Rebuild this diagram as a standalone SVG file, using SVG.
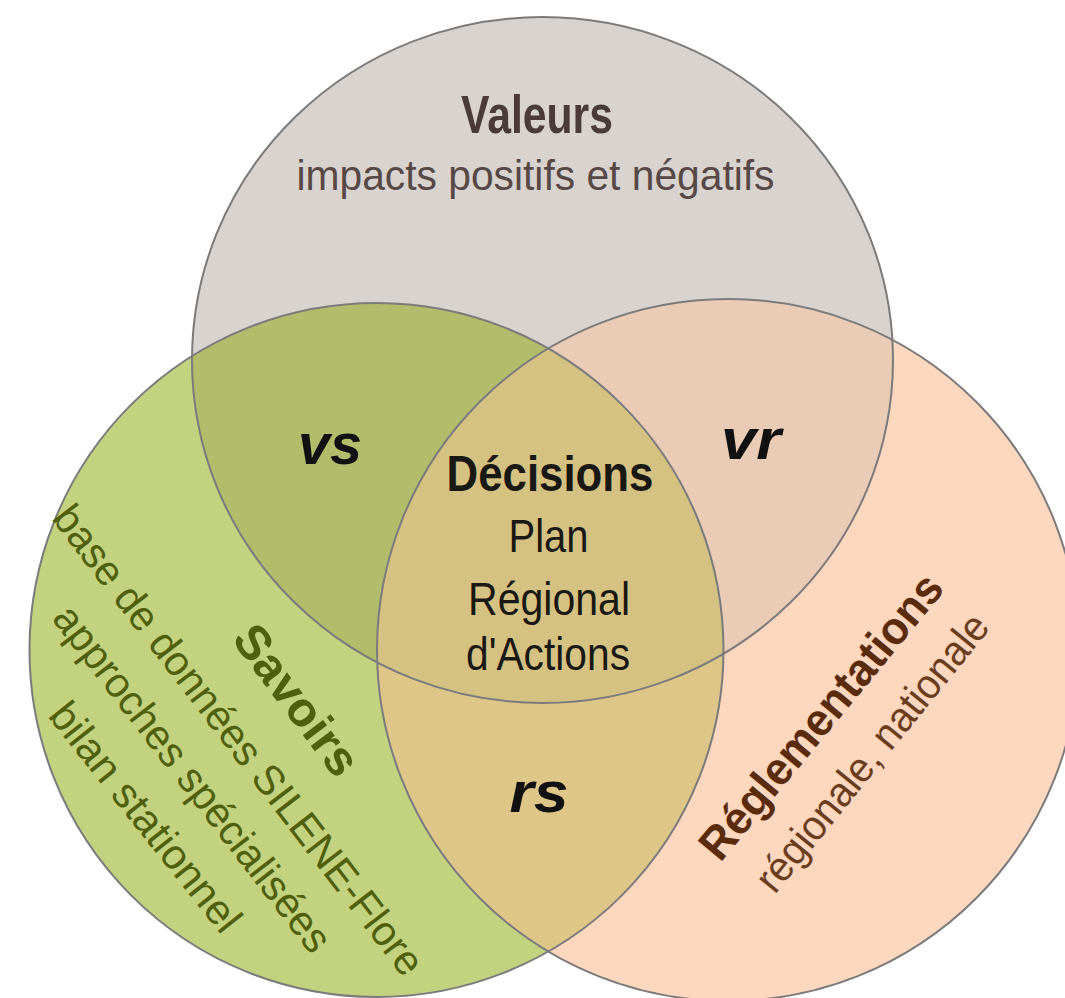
<svg xmlns="http://www.w3.org/2000/svg" width="1065" height="998" viewBox="0 0 1065 998">
  <style>
    .t { font-family: "Liberation Sans", Arial, sans-serif; text-anchor: middle; }
    .b { font-weight: bold; }
    .lbl { font-weight: bold; font-style: italic; font-size: 58px; fill: #111111; }
    .edge { fill: none; stroke: #7b7b7b; stroke-width: 2; }
    .sav { fill: #4f5f0c; }
  </style>
  <defs>
    <clipPath id="clipTop"><ellipse cx="542.5" cy="360" rx="350.5" ry="343"/></clipPath>
    <clipPath id="clipLeft"><circle cx="376.5" cy="650" r="347"/></clipPath>
    <clipPath id="clipRight"><circle cx="728" cy="650" r="351"/></clipPath>
  </defs>
  <rect width="1065" height="998" fill="#ffffff"/>

  <g id="valeurs">
    <ellipse cx="542.5" cy="360" rx="350.5" ry="343" fill="#d8d3cf"/>
  </g>
  <g id="savoirs">
    <circle cx="376.5" cy="650" r="347" fill="#c3d27f"/>
  </g>
  <g id="reglementations">
    <circle cx="728" cy="650" r="351" fill="#fed7bf"/>
  </g>
  <g id="vs">
    <circle cx="376.5" cy="650" r="347" fill="#b2bd6b" clip-path="url(#clipTop)"/>
  </g>
  <g id="vr">
    <circle cx="728" cy="650" r="351" fill="#eaccb6" clip-path="url(#clipTop)"/>
  </g>
  <g id="rs">
    <circle cx="376.5" cy="650" r="347" fill="#dec688" clip-path="url(#clipRight)"/>
  </g>
  <g id="decisions">
    <g clip-path="url(#clipTop)">
      <circle cx="376.5" cy="650" r="347" fill="#d5c283" clip-path="url(#clipRight)"/>
    </g>
  </g>
  <g id="outlines">
    <ellipse class="edge" cx="542.5" cy="360" rx="350.5" ry="343"/>
    <circle class="edge" cx="376.5" cy="650" r="347"/>
    <circle class="edge" cx="728" cy="650" r="351"/>
  </g>

  <g id="valeurs-text">
    <text class="t b" x="537" y="133" font-size="54" fill="#4a3a38" textLength="152" lengthAdjust="spacingAndGlyphs">Valeurs</text>
    <text class="t" x="535.5" y="190" font-size="43" fill="#574846" textLength="478" lengthAdjust="spacingAndGlyphs">impacts positifs et négatifs</text>
  </g>

  <g id="decisions-text" fill="#1a1812">
    <text class="t b" x="550" y="491" font-size="50" textLength="207" lengthAdjust="spacingAndGlyphs">Décisions</text>
    <text class="t" x="548.5" y="552" font-size="46" textLength="80" lengthAdjust="spacingAndGlyphs">Plan</text>
    <text class="t" x="549" y="615" font-size="46" textLength="162" lengthAdjust="spacingAndGlyphs">Régional</text>
    <text class="t" x="548" y="670" font-size="46" textLength="164" lengthAdjust="spacingAndGlyphs">d'Actions</text>
  </g>

  <g id="overlap-labels">
    <text class="t lbl" x="330" y="464" textLength="64" lengthAdjust="spacingAndGlyphs">vs</text>
    <text class="t lbl" x="751" y="459" textLength="60" lengthAdjust="spacingAndGlyphs">vr</text>
    <text class="t lbl" x="539" y="812" textLength="59" lengthAdjust="spacingAndGlyphs">rs</text>
  </g>

  <g id="savoirs-text" class="sav">
    <text class="t b" transform="translate(294 702) rotate(53)" x="0" y="13" font-size="48" textLength="176" lengthAdjust="spacingAndGlyphs">Savoirs</text>
    <text class="t" transform="translate(236 742) rotate(52.5)" x="0" y="11" font-size="42" textLength="580" lengthAdjust="spacingAndGlyphs">base de données SILENE-Flore</text>
    <text class="t" transform="translate(190 780.5) rotate(52.3)" x="0" y="11" font-size="42" textLength="426" lengthAdjust="spacingAndGlyphs">approches spécialisées</text>
    <text class="t" transform="translate(143 819) rotate(51.5)" x="0" y="11" font-size="42" textLength="281" lengthAdjust="spacingAndGlyphs">bilan stationnel</text>
  </g>

  <g id="reglementations-text">
    <text class="t b" transform="translate(823 718) rotate(-50.5)" x="0" y="13" font-size="46" fill="#5b2c0c" textLength="355" lengthAdjust="spacingAndGlyphs">Réglementations</text>
    <text class="t" transform="translate(874.5 754.5) rotate(-51)" x="0" y="11" font-size="42" fill="#6a3d1f" textLength="344" lengthAdjust="spacingAndGlyphs">régionale, nationale</text>
  </g>
</svg>
